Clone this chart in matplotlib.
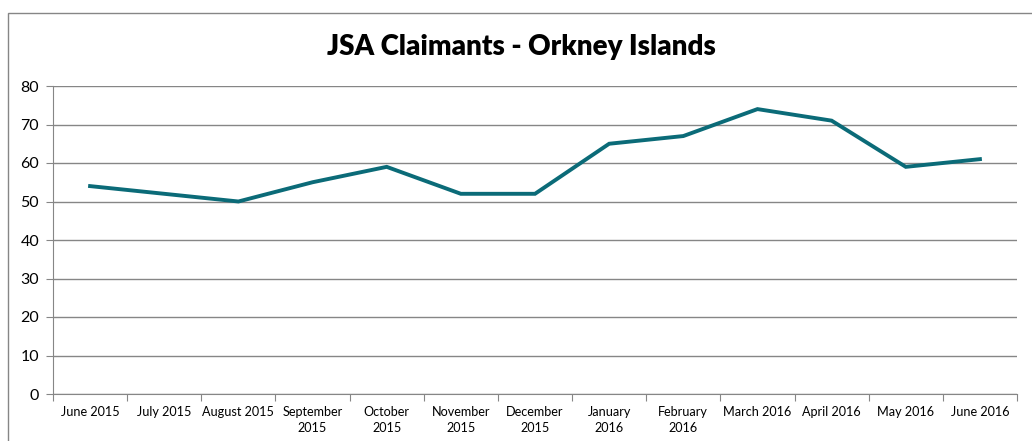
import numpy as np
import matplotlib.pyplot as plt
from matplotlib.patches import Rectangle

# month labels and claimant counts
months = ['June 2015', 'July 2015', 'August 2015', 'September\n2015', 'October\n2015',
          'November\n2015', 'December\n2015', 'January\n2016', 'February\n2016',
          'March 2016', 'April 2016', 'May 2016', 'June 2016']
claimants = [54, 52, 50, 55, 59, 52, 52, 65, 67, 74, 71, 59, 61]
yticks = [0, 10, 20, 30, 40, 50, 60, 70, 80]

plt.rcParams['font.family'] = ['Lato', 'DejaVu Sans']

fig = plt.figure(figsize=(10.32, 4.41), dpi=100)
ax = fig.add_axes([53/1032, 47/441, 964/1032, 308/441])

x = np.arange(len(months))
ax.plot(x, claimants, color='#0b6b78', linewidth=2.8, solid_joinstyle='miter')

ax.set_xlim(-0.5, len(months) - 0.5)
ax.set_ylim(0, 80)
ax.set_yticks(yticks)
ax.tick_params(axis='y', labelsize=11.5, length=5, color='#868686', pad=5)
ax.grid(axis='y', color='#868686', linewidth=1)
ax.set_axisbelow(True)

# tick marks between categories, labels at centres
ax.set_xticks(np.arange(len(months) + 1) - 0.5)
ax.set_xticklabels([])
ax.tick_params(axis='x', which='major', length=5, color='#868686')
ax.set_xticks(x, minor=True)
ax.set_xticklabels(months, minor=True, fontsize=9.1, linespacing=1.3)
ax.tick_params(axis='x', which='minor', length=0, pad=9)

for s in ['top', 'right']:
    ax.spines[s].set_visible(False)
for s in ['left', 'bottom']:
    ax.spines[s].set_color('#868686')

fig.text(521/1032, 1 - 47/441, 'JSA Claimants - Orkney Islands', ha='center', va='center',
         fontsize=20, fontweight='heavy')

# outer chart border
fig.patches.append(Rectangle((8/1032, -0.1), 1.1, 1.1 - 13/441,
                             transform=fig.transFigure, fill=False,
                             edgecolor='#868686', linewidth=1))

fig.savefig('out.png', dpi=100)
